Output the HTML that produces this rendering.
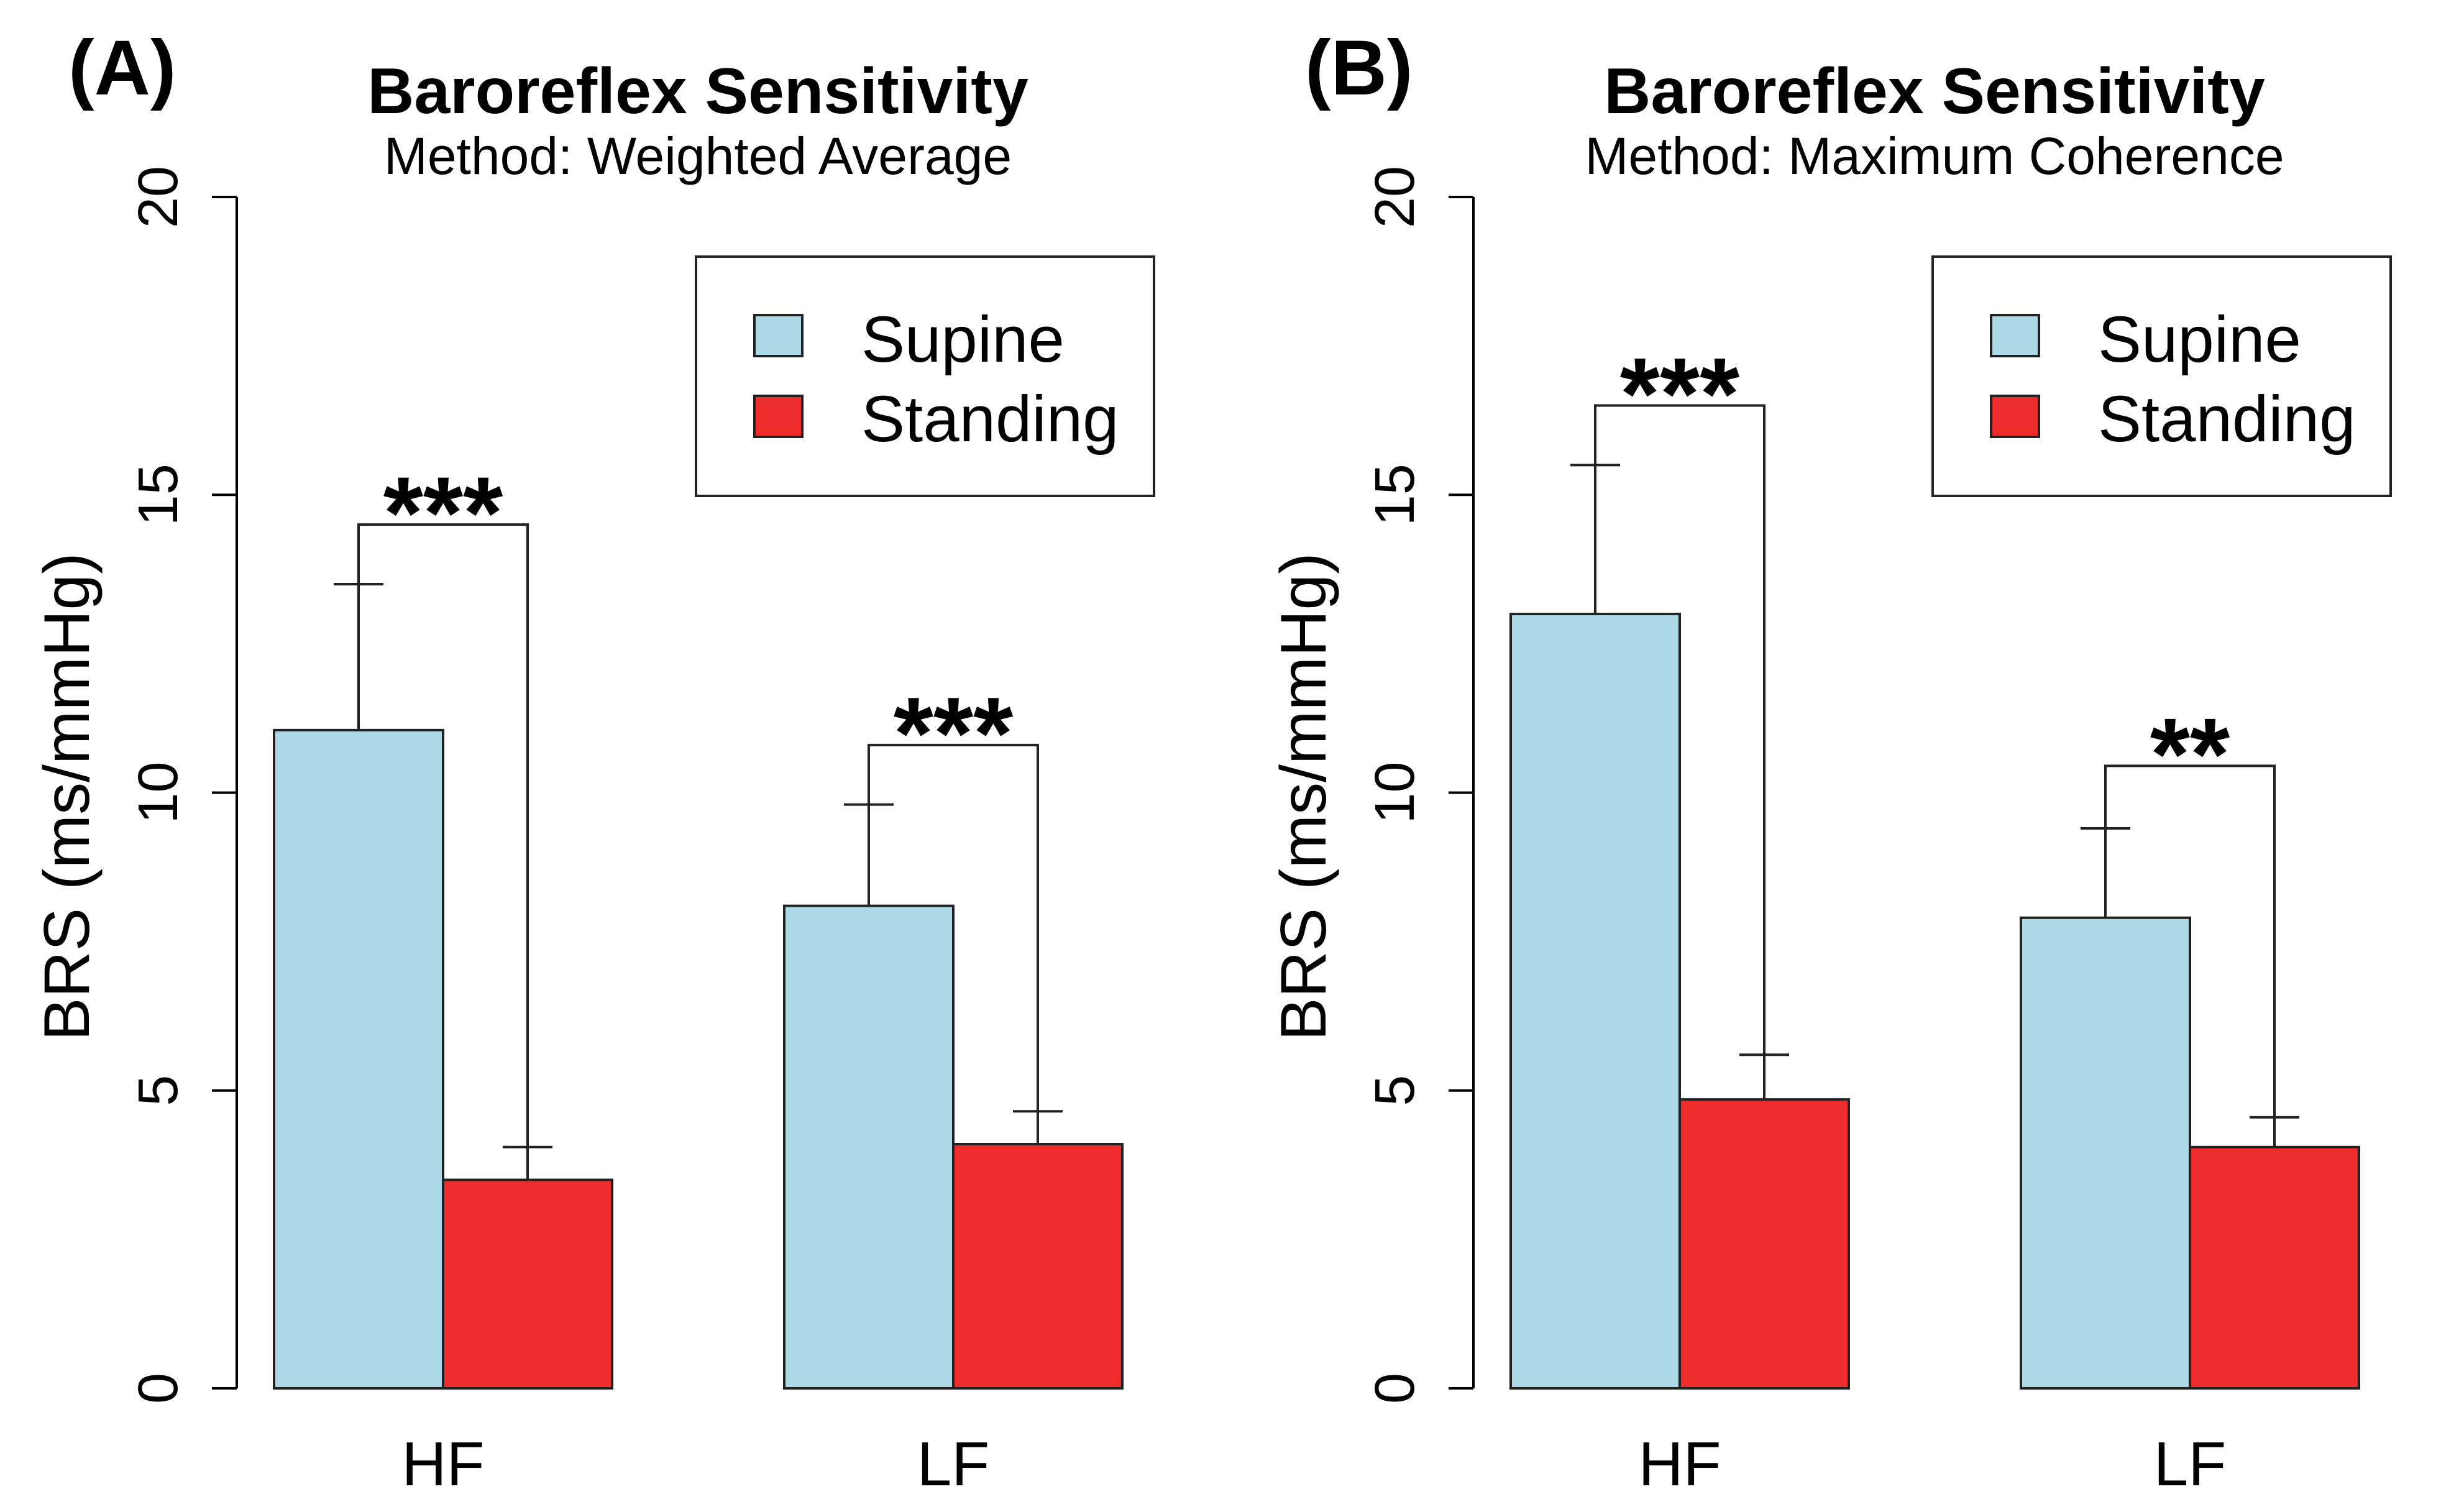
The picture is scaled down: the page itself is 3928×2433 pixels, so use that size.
<!DOCTYPE html>
<html><head><meta charset="utf-8"><style>
html,body{margin:0;padding:0;background:#fff;}
svg{display:block;font-family:"Liberation Sans",Arial,sans-serif;}
</style></head><body>
<svg id="chart" width="3928" height="2433" viewBox="0 0 3928 2433" xmlns="http://www.w3.org/2000/svg"></svg>
<script>
const groups = ["HF", "LF"];
const seriesNames = ["Supine", "Standing"];
const panelLabels = ["(A)", "(B)"];
const panelSubtitles = ["Method: Weighted Average", "Method: Maximum Coherence"];
const yTicks = [0, 5, 10, 15, 20];
const meansA = [[11.05, 3.5], [8.1, 4.1]];
const errTopA = [[13.5, 4.05], [9.8, 4.65]];
const bracketA = [14.5, 10.8];
const starsA = ["***", "***"];
const meansB = [[13.0, 4.85], [7.9, 4.05]];
const errTopB = [[15.5, 5.6], [9.4, 4.55]];
const bracketB = [16.5, 10.45];
const starsB = ["***", "**"];

const NS = "http://www.w3.org/2000/svg";
const svg = document.getElementById("chart");
const colors = ["#add8e6", "#ee2c2c"];
function mk(tag, attrs, parent) {
  const e = document.createElementNS(NS, tag);
  for (const k in attrs) e.setAttribute(k, attrs[k]);
  (parent || svg).appendChild(e);
  return e;
}
const y0 = 2234, y20 = 317;
function yScale(v) { return y0 + (y20 - y0) * v / 20; }

function drawPanel(p, means, errTop, brackets, stars) {
  const off = p * 1990;
  const g = mk("g", {});
  
  
  const axisX = 381 + off;
  const barW = 272;
  const groupStart = [441 + off, 1262 + off];
  let t = mk("text", {x: 110 + off, y: 152, "font-size": 125, "font-weight": "bold", "text-anchor": "start"}, g);
  t.textContent = panelLabels[p];
  
  
  t = mk("text", {x: 1123 + off, y: 182, "font-size": 104, "font-weight": "bold", "text-anchor": "middle"}, g);
  t.textContent = "Baroreflex Sensitivity";
  
  
  t = mk("text", {x: 1123 + off, y: 280, "font-size": 84, "text-anchor": "middle"}, g);
  t.textContent = panelSubtitles[p];
  
  
  let l = mk("line", {x1: axisX, y1: yScale(0), x2: axisX, y2: yScale(20), stroke: "#000", "stroke-width": 4}, g);
  
  
  yTicks.forEach(v => {
    const y = yScale(v);
    const tk = mk("line", {x1: axisX - 40, y1: y, x2: axisX, y2: y, stroke: "#000", "stroke-width": 4}, g);
    
    
    const tl = mk("text", {x: 0, y: 0, "font-size": 90, "text-anchor": "middle", transform: `translate(${285 + off},${y}) rotate(-90)`}, g);
    tl.textContent = v;
    
    
  });
  t = mk("text", {x: 0, y: 0, "font-size": 104, "text-anchor": "middle", transform: `translate(${143 + off},1282) rotate(-90)`}, g);
  t.textContent = "BRS (ms/mmHg)";
  
  
  groups.forEach((gn, gi) => {
    const xs = groupStart[gi];
    means[gi].forEach((v, si) => {
      const x = xs + si * barW;
      const r = mk("rect", {x: x, y: yScale(v), width: barW, height: yScale(0) - yScale(v), fill: colors[si], stroke: "#222", "stroke-width": 4}, g);
      
      
      const cx = x + barW / 2;
      const e1 = mk("line", {x1: cx, y1: yScale(v), x2: cx, y2: yScale(errTop[gi][si]), stroke: "#222", "stroke-width": 4}, g);
      
      
      const e2 = mk("line", {x1: cx - 40, y1: yScale(errTop[gi][si]), x2: cx + 40, y2: yScale(errTop[gi][si]), stroke: "#222", "stroke-width": 4}, g);
      
      
    });
    const c1 = xs + barW / 2, c2 = xs + barW * 1.5;
    const by = yScale(brackets[gi]);
    const br = mk("polyline", {points: `${c1},${yScale(errTop[gi][0])} ${c1},${by} ${c2},${by} ${c2},${yScale(errTop[gi][1])}`, fill: "none", stroke: "#222", "stroke-width": 4}, g);
    
    
    const st = mk("text", {x: (c1 + c2) / 2, y: by + 38, "font-size": 165, "font-weight": "bold", "text-anchor": "middle"}, g);
    st.textContent = stars[gi];
    
    
    const xl = mk("text", {x: xs + barW, y: 2390, "font-size": 100, "text-anchor": "middle"}, g);
    xl.textContent = gn;
    
    
  });
  const lg = mk("g", {}, g);
  
  
  const lb = mk("rect", {x: 1120 + off, y: 413, width: 737, height: 385, fill: "#fff", stroke: "#222", "stroke-width": 4}, lg);
  
  
  seriesNames.forEach((s, si) => {
    const sw = mk("rect", {x: 1214 + off, y: 507 + si * 130, width: 77, height: 66, fill: colors[si], stroke: "#222", "stroke-width": 4}, lg);
    
    
    const lt = mk("text", {x: 1386 + off, y: 582 + si * 128, "font-size": 105}, lg);
    lt.textContent = s;
    
    
  });
}
drawPanel(0, meansA, errTopA, bracketA, starsA);
drawPanel(1, meansB, errTopB, bracketB, starsB);
</script>
</body></html>
